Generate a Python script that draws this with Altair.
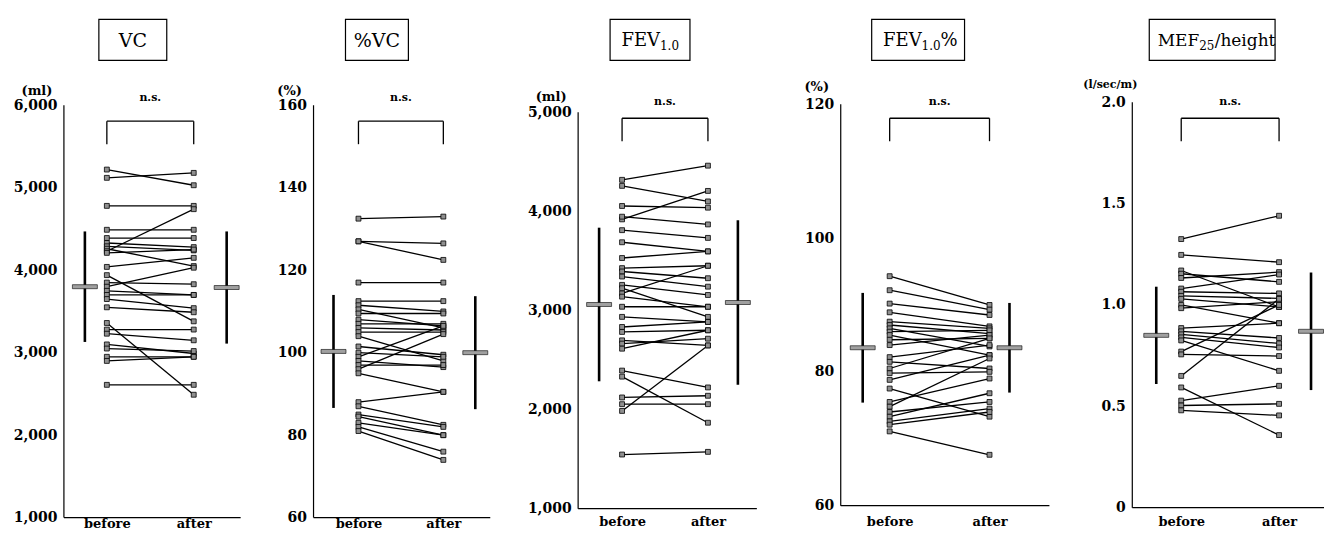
import altair as alt
import pandas as pd

# ---------------- data ----------------
vc_before = [5220, 5120, 4780, 4490, 4390, 4330, 4290, 4260, 4230, 4210, 4040, 3940, 3850,
             3800, 3750, 3700, 3650, 3550, 3360, 3280, 3230, 3100, 3050, 2950, 2900, 2610]
vc_after = [5030, 5180, 4780, 4490, 4390, 4280, 4240, 4050, 4740, 4250, 4150, 3380, 3830,
            4030, 3700, 3700, 3540, 3490, 2490, 3280, 3150, 2990, 3020, 2950, 2950, 2610]
vc_mean = [3800, 3790]
vc_sd = [670, 680]
vc_ticks = [1000, 2000, 3000, 4000, 5000, 6000]

pvc_before = [132.5, 127, 127, 117, 112.5, 111.5, 110.5, 109.5, 108, 107, 106, 105, 104, 101.5,
              100, 99, 98, 97, 96, 95, 88, 87, 85, 84.5, 83, 82, 81]
pvc_after = [133, 126.5, 122.5, 117, 112.5, 110, 106, 109.5, 106.5, 107, 105.5, 105, 98, 99.5,
             99, 106.5, 96.5, 97, 104.5, 90.5, 90.5, 82.5, 82, 80, 80, 76, 74]
pvc_mean = [100.3, 100.0]
pvc_sd = [13.7, 13.7]
pvc_ticks = [60, 80, 100, 120, 140, 160]

fev_before = [4318, 4257, 3919, 4054, 3946, 3810, 3688, 3529, 3427, 3393, 3342, 3173, 3258, 3224,
              3139, 3037, 2935, 2833, 2783, 2698, 2665, 2614, 2393, 2332, 2122, 2054, 1986, 1546]
fev_after = [4461, 4100, 4206, 4037, 3868, 3732, 3596, 3596, 3451, 3325, 3240, 3451, 3156, 2935,
             3037, 3037, 2884, 2884, 2800, 2647, 2715, 2800, 2223, 1867, 2139, 2054, 2647, 1573]
fev_mean = [3060, 3080]
fev_sd = [775, 830]
fev_ticks = [1000, 2000, 3000, 4000, 5000]

fevp_before = [94.3, 92.2, 90.2, 88.9, 87.5, 87.0, 86.5, 86.0, 85.5, 84.8, 84.0, 82.2, 81.5, 80.5,
               79.8, 78.8, 77.5, 75.5, 74.8, 74.0, 73.3, 72.6, 72.1, 71.1]
fevp_after = [90.0, 89.3, 88.5, 86.8, 86.5, 85.7, 83.8, 86.2, 82.5, 85.0, 85.5, 84.0, 80.5, 85.0,
              80.0, 82.5, 73.3, 79.0, 82.0, 75.5, 76.8, 74.5, 74.0, 67.6]
fevp_mean = [83.6, 83.6]
fevp_sd = [8.2, 6.7]
fevp_ticks = [60, 80, 100, 120]

mef_before = [1.325, 1.247, 1.17, 1.154, 1.133, 1.081, 1.065, 1.045, 1.03, 1.0, 0.984, 0.886,
              0.87, 0.855, 0.84, 0.825, 0.77, 0.756, 0.65, 0.593, 0.528, 0.504, 0.48]
mef_after = [1.44, 1.211, 0.99, 1.114, 1.162, 1.15, 1.057, 1.032, 0.99, 0.91, 1.016, 0.91,
             0.837, 0.81, 0.79, 0.675, 1.0, 0.748, 1.03, 0.358, 0.601, 0.512, 0.455]
mef_mean = [0.85, 0.87]
mef_sd = [0.24, 0.29]
mef_ticks = [0, 0.5, 1.0, 1.5, 2.0]

phase_labels = ["before", "after"]
sig_label = "n.s."

# ---------------- layout / style ----------------
FONT = "DejaVu Serif"
EXT = 56               # reserved width of each y axis (labels)
PLOT_TOP = 100         # common top of all plot areas (page pixels)
BOX_TOP, BOX_BOT = 18, 59
RIGHT_EDGE = 1325
XLABEL_Y = 522         # page y of the before/after labels

PANELS = [
    dict(before=vc_before, after=vc_after, mean=vc_mean, sd=vc_sd, ticks=vc_ticks, ydom=[1000, 6000],
         fmt="format(datum.value, ',')", unit="(ml)", unit_x=-27, unit_py=90,
         title=[("VC", 19, 0, "center")], junction=132,
         axis_x=63, top=104, bottom=517, xb=106, xa=193, sdx=(84, 226), end_x=240,
         box=(98, 166), ns_py=97, br_py=120),
    dict(before=pvc_before, after=pvc_after, mean=pvc_mean, sd=pvc_sd, ticks=pvc_ticks, ydom=[60, 160],
         fmt="format(datum.value, 'd')", unit="(%)", unit_x=-24, unit_py=90,
         title=[("%VC", 19, 0, "center")], junction=376.5,
         axis_x=313, top=104, bottom=517, xb=358, xa=443, sdx=(333, 475), end_x=490,
         box=(345, 408), ns_py=97, br_py=120),
    dict(before=fev_before, after=fev_after, mean=fev_mean, sd=fev_sd, ticks=fev_ticks, ydom=[1000, 5000],
         fmt="format(datum.value, ',')", unit="(ml)", unit_x=-27, unit_py=96,
         title=[("FEV", 18, 0, "right"), ("1.0", 12, 5, "left")], junction=660,
         axis_x=578, top=111, bottom=508, xb=622, xa=708, sdx=(599, 738), end_x=757,
         box=(610, 690), ns_py=101, br_py=117),
    dict(before=fevp_before, after=fevp_after, mean=fevp_mean, sd=fevp_sd, ticks=fevp_ticks, ydom=[60, 120],
         fmt="format(datum.value, 'd')", unit="(%)", unit_x=-24, unit_py=86,
         title=[("FEV", 18, 0, "right"), ("1.0", 12, 5, "left"), ("%", 18, 0, "left")], junction=922,
         axis_x=841, top=103, bottom=505, xb=890, xa=990, sdx=(863, 1010), end_x=1050,
         box=(872, 965), ns_py=101, br_py=117),
    dict(before=mef_before, after=mef_after, mean=mef_mean, sd=mef_sd, ticks=mef_ticks, ydom=[0, 2.0],
         fmt="datum.value == 0 ? '0' : format(datum.value, '.1f')", unit="(l/sec/m)", unit_x=-22, unit_py=84,
         title=[("MEF", 17, 0, "right"), ("25", 12, 5, "left"), ("/height", 17, 0, "left")], junction=1200,
         axis_x=1133, top=101, bottom=507, xb=1182, xa=1280, sdx=(1157, 1312), end_x=1325,
         box=(1150, 1276), ns_py=101, br_py=117),
]

SUB_W = {"1.0": 19, "25": 15.5}   # widths of subscript pieces at 12px


def make_panel(p, next_axis):
    k = p["xa"] - p["xb"]
    width = next_axis - p["axis_x"] - EXT
    ymin, ymax = p["ydom"]
    tick_h = p["bottom"] - p["top"]
    height = p["bottom"] - PLOT_TOP
    upp = (ymax - ymin) / tick_h                       # data units per pixel
    ydom_top = ymax + (p["top"] - PLOT_TOP) * upp
    d0 = (p["axis_x"] - p["xb"]) / k
    d1 = d0 + width / k

    def xv(px):
        return (px - p["xb"]) / k

    def yv(py):
        return ymax - (py - p["top"]) * upp

    def rel_y(py):
        return py - PLOT_TOP

    xscale = alt.Scale(domain=[d0, d1], nice=False, zero=False)
    yscale = alt.Scale(domain=[ymin, ydom_top], nice=False, zero=False)
    xaxis = alt.Axis(values=[0, 1], title=None, ticks=False, domain=False, grid=False,
                     labelExpr=f"datum.value == 0 ? '{phase_labels[0]}' : '{phase_labels[1]}'",
                     labelFont=FONT, labelFontWeight="bold", labelFontSize=13, labelColor="black",
                     labelPadding=max(0, XLABEL_Y - 7 - p["bottom"]))
    yaxis = alt.Axis(values=p["ticks"], title=None, ticks=False, grid=False, labelExpr=p["fmt"],
                     labelFont=FONT, labelFontWeight="bold", labelFontSize=14, labelColor="black",
                     labelPadding=7, domain=False, minExtent=EXT, maxExtent=EXT)

    def X(f):
        return alt.X(f"{f}:Q", scale=xscale, axis=xaxis)

    def Y(f):
        return alt.Y(f"{f}:Q", scale=yscale, axis=yaxis)

    rows = []
    for i, (b, a) in enumerate(zip(p["before"], p["after"])):
        rows.append({"id": i, "phase": 0, "value": b})
        rows.append({"id": i, "phase": 1, "value": a})
    df = pd.DataFrame(rows)

    sd_df = pd.DataFrame({
        "phase": [xv(p["sdx"][0]), xv(p["sdx"][1])],
        "value": p["mean"],
        "lo": [m - s for m, s in zip(p["mean"], p["sd"])],
        "hi": [m + s for m, s in zip(p["mean"], p["sd"])],
    })

    # axis frame: y axis line (from lowest to highest tick) and bottom line
    frame_df = pd.DataFrame({"phase": [d0, d0], "p2": [d0, xv(p["end_x"])],
                             "value": [ymin, ymin], "v2": [ymax, ymin]})
    frame = alt.Chart(frame_df).mark_rule(color="black", strokeWidth=1.2).encode(
        x=X("phase"), x2="p2:Q", y=Y("value"), y2="v2:Q")

    lines = alt.Chart(df).mark_line(color="black", strokeWidth=1.3).encode(
        x=X("phase"), y=Y("value"), detail="id:N")
    pts = alt.Chart(df).mark_square(size=24, fill="#8f8f8f", stroke="black", strokeWidth=0.8,
                                    opacity=1).encode(x=X("phase"), y=Y("value"))

    sd_rule = alt.Chart(sd_df).mark_rule(color="black", strokeWidth=2.6).encode(
        x=X("phase"), y=Y("lo"), y2="hi:Q")
    mean_tick = alt.Chart(sd_df).mark_tick(orient="horizontal", size=25, thickness=4, fill="#a0a0a0",
                                           stroke="black", strokeWidth=0.6, opacity=1).encode(
        x=X("phase"), y=Y("value"))

    br_top = yv(p["br_py"])
    br_bot = yv(p["br_py"] + 23)
    br_df = pd.DataFrame({"phase": [0, 0, 1], "p2": [1, 0, 1],
                          "value": [br_top, br_bot, br_bot], "v2": [br_top, br_top, br_top]})
    bracket = alt.Chart(br_df).mark_rule(color="black", strokeWidth=1.3).encode(
        x=X("phase"), x2="p2:Q", y=Y("value"), y2="v2:Q")
    ns = alt.Chart(pd.DataFrame({"phase": [0.5], "value": [yv(p["ns_py"])], "t": [sig_label]})).mark_text(
        font=FONT, fontWeight="bold", fontSize=11, color="black").encode(
        x=X("phase"), y=Y("value"), text="t:N")

    one = pd.DataFrame({"t": [p["unit"]]})
    unit = alt.Chart(one).mark_text(font=FONT, fontWeight="bold", fontSize=11 if len(p["unit"]) > 4 else 13,
                                    color="black", align="center", baseline="middle").encode(
        x=alt.value(p["unit_x"]), y=alt.value(rel_y(p["unit_py"])), text="t:N")

    bx0, bx1 = p["box"]
    box = alt.Chart(one).mark_rect(fill="white", stroke="black", strokeWidth=1.2).encode(
        x=alt.value(bx0 - p["axis_x"]), x2=alt.value(bx1 - p["axis_x"]),
        y=alt.value(rel_y(BOX_TOP)), y2=alt.value(rel_y(BOX_BOT)))

    cy = rel_y((BOX_TOP + BOX_BOT) / 2 + 1)
    xcur = p["junction"] - p["axis_x"]
    title_layers = []
    for s, fs, dy, al in p["title"]:
        title_layers.append(
            alt.Chart(pd.DataFrame({"t": [s]})).mark_text(
                font=FONT, fontSize=fs, color="black", align=al, baseline="middle", dy=dy).encode(
                x=alt.value(xcur), y=alt.value(cy), text="t:N"))
        if s in SUB_W:
            xcur += SUB_W[s]

    return alt.layer(frame, lines, pts, sd_rule, mean_tick, bracket, ns, unit, box,
                     *title_layers).properties(width=width, height=height)


charts = []
for i, p in enumerate(PANELS):
    nxt = PANELS[i + 1]["axis_x"] if i + 1 < len(PANELS) else RIGHT_EDGE + EXT
    charts.append(make_panel(p, nxt))

chart = alt.hconcat(*charts, spacing=0).properties(
    padding={"left": 0, "top": 10, "right": 0, "bottom": 0}
).configure_view(stroke=None)

chart.save("out.html", embed_options={"renderer": "svg", "actions": False})
